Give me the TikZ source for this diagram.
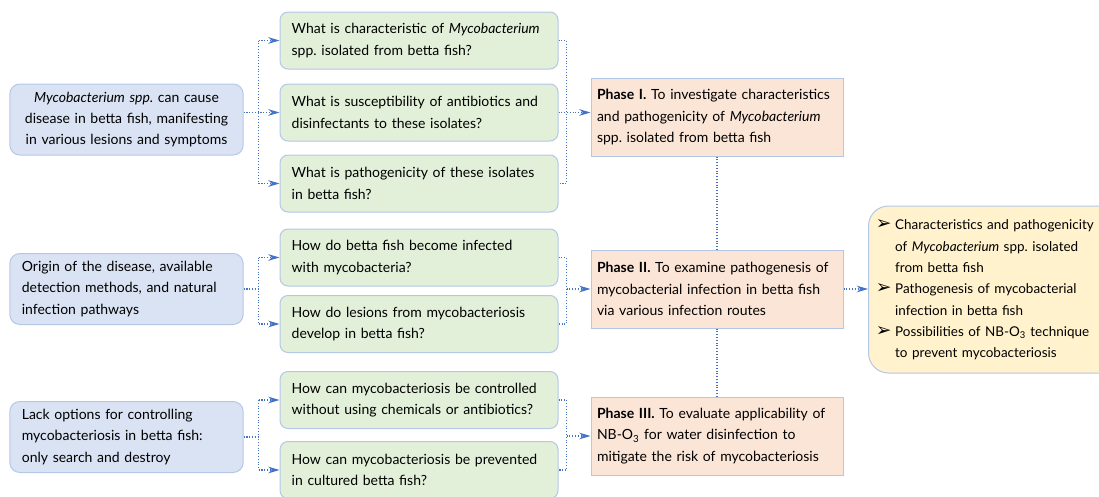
\documentclass[tikz,border=0pt]{standalone}
\usepackage{fontspec}
\setmainfont{Lato}
\newfontfamily\bulfont{DejaVu Sans}
\usetikzlibrary{arrows.meta}

\definecolor{boxline}{HTML}{B4C7E7}
\definecolor{causefill}{HTML}{DAE3F3}
\definecolor{askfill}{HTML}{E2F0D9}
\definecolor{phasefill}{HTML}{FBE5D6}
\definecolor{outfill}{HTML}{FFF2CC}
\definecolor{linkblue}{HTML}{4472C4}

\newcommand{\myco}{\textit{Mycobacterium}}
\newcommand{\bul}{\makebox[14.5pt][l]{\smash{\bulfont\fontsize{14}{14}\selectfont ➢}}}

\begin{document}
\begin{tikzpicture}[x=0.75pt,y=-0.75pt,
    txt/.style={font=\fontsize{10.5}{16}\selectfont, draw=boxline, line width=0.75pt, align=left},
    causebox/.style={txt, fill=causefill, rounded corners=7.5pt, minimum width=174.75pt, minimum height=53.25pt, text width=157pt, inner xsep=9pt},
    askbox/.style={txt, fill=askfill, rounded corners=6pt, minimum width=208.5pt, minimum height=42.75pt, text width=191pt, inner xsep=8.75pt},
    phasebox/.style={txt, fill=phasefill, minimum width=189pt, minimum height=58.5pt, text width=180pt, inner xsep=4.5pt},
    outbox/.style={txt, font=\fontsize{10.1}{16}\selectfont, fill=outfill, rounded corners=15pt, minimum width=195pt, minimum height=125.25pt, text width=185pt, inner xsep=5.5pt},
    link/.style={draw=linkblue, line width=0.8pt, dash pattern=on 0.8pt off 1.3pt},
    arr/.style={link, -{Stealth[length=8.5pt,width=5pt]}}
]
\useasboundingbox (0,0) rectangle (1099,496);

% Przyczyny
\node[causebox, align=center] (l1) at (126.5,119.5) {\textit{Mycobacterium spp.}\ can cause\\ disease in betta fish, manifesting\\ in various lesions and symptoms};
\node[causebox] (l2) at (126.5,289) {Origin of the disease, available\\ detection methods, and natural\\ infection pathways};
\node[causebox] (l3) at (126.5,437) {Lack options for controlling\\ mycobacteriosis in betta fish:\\ only search and destroy};

% Pytania
\node[askbox] (g1) at (419,40.5) {What is characteristic of \myco\\ spp.\ isolated from betta fish?};
\node[askbox] (g2) at (419,112.5) {What is susceptibility of antibiotics and\\ disinfectants to these isolates?};
\node[askbox] (g3) at (419,183.5) {What is pathogenicity of these isolates\\ in betta fish?};
\node[askbox] (g4) at (419,257.5) {How do betta fish become infected\\ with mycobacteria?};
\node[askbox] (g5) at (419,324) {How do lesions from mycobacteriosis\\ develop in betta fish?};
\node[askbox] (g6) at (419,400) {How can mycobacteriosis be controlled\\ without using chemicals or antibiotics?};
\node[askbox] (g7) at (419,470) {How can mycobacteriosis be prevented\\ in cultured betta fish?};

% Etapy
\node[phasebox] (p1) at (717,117) {\textbf{Phase I.} To investigate characteristics\\ and pathogenicity of \myco\\ spp.\ isolated from betta fish};
\node[phasebox] (p2) at (717,289) {\textbf{Phase II.} To examine pathogenesis of\\ mycobacterial infection in betta fish\\ via various infection routes};
\node[phasebox] (p3) at (717,436) {\textbf{Phase III.} To evaluate applicability of\\ NB-O\textsubscript{3} for water disinfection to\\ mitigate the risk of mycobacteriosis};

\node[outbox, anchor=west] (res) at (868,289.5) {%
  \begin{tabular}{@{}l@{}l@{}}
  \bul & Characteristics and pathogenicity\\
       & of \myco{} spp.\ isolated\\
       & from betta fish\\
  \bul & Pathogenesis of mycobacterial\\
       & infection in betta fish\\
  \bul & Possibilities of NB-O\textsubscript{3} technique\\
       & to prevent mycobacteriosis
  \end{tabular}};

% lewe klamry
\path (l1.east) ++(15,0) coordinate (s1);
\path (l2.east) ++(15,0) coordinate (s2);
\path (l3.east) ++(15,0) coordinate (s3);
\draw[link] (s1 |- g1.west) -- (s1 |- g3.west);
\draw[link] (s2 |- g4.west) -- (s2 |- g5.west);
\draw[link] (s3 |- g6.west) -- (s3 |- g7.west);
\draw[arr] (l1.east |- g2.west) -- (g2.west);
\draw[link] (l2.east) -- (s2);
\draw[link] (l3.east) -- (s3);
\foreach \g/\s in {g1/s1,g3/s1,g4/s2,g5/s2,g6/s3,g7/s3}
  \draw[arr] (\s |- \g.west) -- (\g.west);

% prawe klamry
\path (g1.east) ++(8,0) coordinate (t1);
\path (g4.east) ++(8,0) coordinate (t2);
\path (g6.east) ++(8,0) coordinate (t3);
\draw[link] (g1.east) -- (t1 |- g1.east) -- (t1 |- g3.east) -- (g3.east);
\draw[link] (g4.east) -- (t2 |- g4.east) -- (t2 |- g5.east) -- (g5.east);
\draw[link] (g6.east) -- (t3 |- g6.east) -- (t3 |- g7.east) -- (g7.east);
\draw[arr] (g2.east) -- (g2.east -| p1.west);
\draw[arr] (t2 |- p2.west) -- (p2.west);
\draw[arr] (t3 |- p3.west) -- (p3.west);

% etapy i wynik
\draw[link] (p1) -- (p2);
\draw[link] (p2) -- (p3);
\draw[arr] (p2.east) -- (p2.east -| res.west);
\end{tikzpicture}
\end{document}
